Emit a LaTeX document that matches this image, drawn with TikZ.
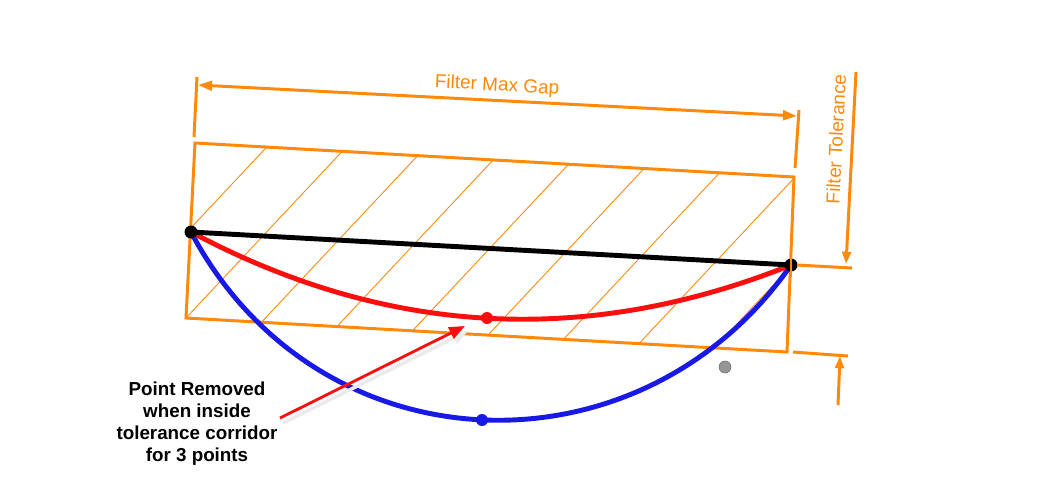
\documentclass[tikz,border=0pt]{standalone}
\usepackage{fontspec}
\setmainfont{Liberation Sans}
\usepackage{xcolor}
\definecolor{dimorange}{RGB}{255,137,10}
\definecolor{curvered}{RGB}{250,15,15}
\definecolor{curveblue}{RGB}{25,25,230}
\definecolor{ptgray}{RGB}{150,150,150}
\usetikzlibrary{arrows.meta}

\begin{document}
\begin{tikzpicture}[x=0.02cm, y=-0.02cm,
	dimline/.style={draw=dimorange, line width=1.7pt},
	dimarrow/.style={draw=dimorange, fill=dimorange, line width=1.7pt},
	hatchline/.style={draw=dimorange, line width=0.5pt},
	dot/.style={circle, inner sep=0pt, minimum size=0.24cm},
	dimlabel/.style={text=dimorange, font=\fontsize{10.8}{13}\selectfont}]
	\useasboundingbox[fill=white] (0,0) rectangle (1037,491);
	% corridor corners
	\coordinate (cTL) at (195,143);
	\coordinate (cTR) at (794,177);
	\coordinate (cBR) at (787,352);
	\coordinate (cBL) at (186,318);
	% hatching inside the corridor
	\begin{scope}
		\clip (cTL) -- (cTR) -- (cBR) -- (cBL) -- cycle;
		\foreach \k in {0,...,8}
			\draw[hatchline] ({404.5+79.5*\k-93.7},100) -- ({404.5+79.5*\k-374.9},400);
	\end{scope}
	\draw[dimline, line join=miter] (cTL) -- (cTR) -- (cBR) -- (cBL) -- cycle;
	% end points and middle points
	\node[dot, minimum size=0.26cm] (pL) at (191,232) {};
	\node[dot, minimum size=0.26cm] (pR) at (791,265) {};
	\node[dot] (redMid) at (487,318) {};
	\node[dot] (blueMid) at (482,420) {};
	% curves
	\draw[curveblue, line width=2.8pt] (pL.center) .. controls (318,472) and (640,482) .. (pR.center);
	\draw[curvered, line width=2.8pt] (pL.center) .. controls (386,336) and (586,347) .. (pR.center);
	\draw[black, line width=2.8pt] (pL.center) -- (pR.center);
	\fill[black] (pL) circle (0.13cm);
	\fill[black] (pR) circle (0.13cm);
	\fill[curvered] (redMid) circle (0.12cm);
	\fill[curveblue] (blueMid) circle (0.12cm);
	\draw[dimorange, line width=1.2pt] (pR.center) ++(0,-12) -- ++(0,24);
	% filter max gap
	\coordinate (gapExtLtop) at (197,77);
	\coordinate (gapExtLbot) at (194,137);
	\coordinate (gapExtRtop) at (799,110);
	\coordinate (gapExtRbot) at (795,168);
	\coordinate (gapL) at (198,85);
	\coordinate (gapR) at (797,116);
	\draw[dimline] (gapExtLtop) -- (gapExtLbot);
	\draw[dimline] (gapExtRtop) -- (gapExtRbot);
	\draw[dimarrow, {Triangle[length=8pt,width=5.5pt]}-{Triangle[length=8pt,width=5.5pt]}] (gapL) -- (gapR);
	\node[dimlabel, rotate=-3.15] (gapLabel) at (497,86) {Filter Max Gap};
	% filter tolerance
	\coordinate (tolTop) at (856,72);
	\coordinate (tolTip) at (846,264);
	\coordinate (tolExtA) at (797,265);
	\coordinate (tolExtB) at (852,268);
	\coordinate (tolExtC) at (793,352);
	\coordinate (tolExtD) at (848,356);
	\coordinate (tolLow) at (838,405);
	\coordinate (tolLowTip) at (840,356);
	\draw[dimline] (tolExtA) -- (tolExtB);
	\draw[dimline] (tolExtC) -- (tolExtD);
	\draw[dimarrow, -{Triangle[length=7pt,width=5pt]}] (tolTop) -- (tolTip);
	\draw[dimarrow, -{Triangle[length=7pt,width=5pt]}] (tolLow) -- (tolLowTip);
	\node[dimlabel, rotate=87, inner sep=1pt] (tolLabel) at (836,139) {Filter Tolerance};
	% stray point
	\node[circle, fill=ptgray, draw=ptgray!70!black, line width=0.3pt, inner sep=0pt, minimum size=0.24cm] (strayPt) at (725,367) {};
	% note with arrow
	\node[font=\bfseries\fontsize{10.7}{12.5}\selectfont, align=center] (note) at (197,424) {Point Removed\\when inside\\tolerance corridor\\for 3 points};
	\coordinate (arrowTail) at (280,418);
	\coordinate (arrowTip) at (465,326);
	\draw[black!8, line width=2pt, -{Triangle[length=9pt,width=7pt]}] ([shift={(3,5)}]arrowTail) -- ([shift={(3,5)}]arrowTip);
	\draw[curvered, line width=1.6pt, -{Triangle[length=9pt,width=7pt]}] (arrowTail) -- (arrowTip);
\end{tikzpicture}
\end{document}
